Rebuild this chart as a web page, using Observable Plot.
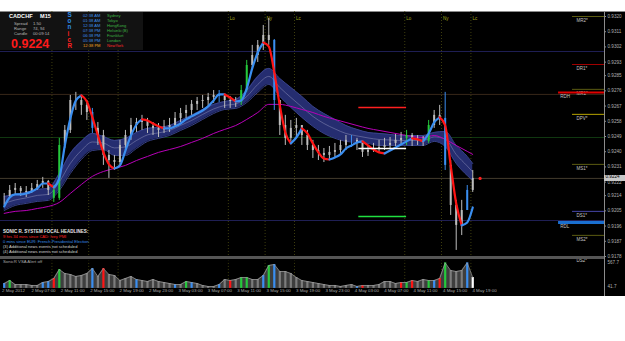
<!DOCTYPE html>
<html><head><meta charset="utf-8">
<script src="https://cdn.jsdelivr.net/npm/d3@7"></script>
<script src="https://cdn.jsdelivr.net/npm/@observablehq/plot@0.6"></script>
<style>
html,body{margin:0;padding:0;background:#fff;}
#root{position:relative;width:625px;height:341px;overflow:hidden;background:#fff;font-family:"Liberation Sans",Arial,sans-serif;}
#black{position:absolute;left:0;top:11px;width:625px;height:285px;background:#000;border-top:1px solid #8a8a8a;box-sizing:border-box;}
.abs{position:absolute;white-space:nowrap;line-height:1;}
.plot{position:absolute;left:0;}
</style></head>
<body><div id="root"><div id="black"></div></div>
<script>
// ---------------- DATA ----------------
const symbol = "CADCHF", timeframe = "M15";
// candles (one every 3 M15 bars)
const candleHigh = [0.92153,0.92200,0.92212,0.92194,0.92194,0.92212,0.92230,0.92248,0.92230,0.92200,
0.92479,0.92555,0.92733,0.92751,0.92733,0.92703,0.92656,0.92573,0.92526,0.92407,
0.92378,0.92467,0.92526,0.92597,0.92597,0.92615,0.92597,0.92573,0.92567,0.92585,
0.92597,0.92632,0.92656,0.92674,0.92703,0.92721,0.92733,0.92745,0.92762,0.92762,
0.92733,0.92727,0.92721,0.92792,0.92940,0.93029,0.93058,0.93147,0.93188,0.93064,
0.92703,0.92615,0.92585,0.92597,0.92555,0.92526,0.92467,0.92437,0.92419,0.92431,
0.92449,0.92467,0.92496,0.92496,0.92479,0.92449,0.92437,0.92449,0.92467,0.92479,
0.92484,0.92502,0.92514,0.92526,0.92508,0.92496,0.92490,0.92585,0.92644,0.92674,
0.92751,0.92348,0.92112,0.92112,0.92200,0.92289];
const candleLow = [0.92082,0.92129,0.92141,0.92135,0.92129,0.92153,0.92171,0.92183,0.92141,0.92100,
0.92112,0.92419,0.92508,0.92644,0.92615,0.92585,0.92508,0.92437,0.92319,0.92242,
0.92289,0.92319,0.92407,0.92467,0.92514,0.92526,0.92508,0.92496,0.92484,0.92508,
0.92514,0.92550,0.92573,0.92597,0.92615,0.92644,0.92656,0.92668,0.92686,0.92691,
0.92656,0.92656,0.92662,0.92674,0.92751,0.92881,0.92928,0.92999,0.93029,0.92644,
0.92496,0.92437,0.92455,0.92479,0.92437,0.92407,0.92360,0.92348,0.92336,0.92348,
0.92366,0.92390,0.92407,0.92425,0.92407,0.92366,0.92372,0.92396,0.92396,0.92407,
0.92413,0.92431,0.92437,0.92437,0.92431,0.92437,0.92431,0.92449,0.92538,0.92555,
0.92289,0.92023,0.91816,0.91904,0.92052,0.92159];
const candleClose = [0.92135,0.92171,0.92183,0.92165,0.92159,0.92183,0.92206,0.92224,0.92171,0.92124,
0.92437,0.92526,0.92703,0.92703,0.92674,0.92632,0.92538,0.92496,0.92378,0.92348,
0.92336,0.92437,0.92496,0.92555,0.92573,0.92585,0.92550,0.92538,0.92526,0.92544,
0.92555,0.92597,0.92626,0.92644,0.92680,0.92697,0.92703,0.92721,0.92733,0.92727,
0.92703,0.92697,0.92691,0.92762,0.92910,0.92969,0.93029,0.93088,0.93058,0.92703,
0.92555,0.92479,0.92538,0.92555,0.92496,0.92437,0.92407,0.92390,0.92378,0.92396,
0.92407,0.92437,0.92467,0.92467,0.92449,0.92396,0.92407,0.92419,0.92425,0.92437,
0.92449,0.92467,0.92479,0.92496,0.92467,0.92467,0.92461,0.92555,0.92615,0.92597,
0.92319,0.92082,0.91964,0.92052,0.92171,0.92242];
const greenCandles = [9,10,43,44,73,77];
const blueCandles = [16,39,49,63,80,84];
// fast smoothed MA (blue rising / red falling)
const fastMA = [0.92076,0.92129,0.92147,0.92147,0.92153,0.92165,0.92183,0.92212,0.92212,0.92189,
0.92242,0.92437,0.92597,0.92703,0.92733,0.92697,0.92603,0.92496,0.92396,0.92325,
0.92301,0.92319,0.92407,0.92496,0.92561,0.92591,0.92585,0.92567,0.92550,0.92538,
0.92538,0.92550,0.92567,0.92591,0.92609,0.92626,0.92644,0.92668,0.92703,0.92739,
0.92739,0.92721,0.92697,0.92703,0.92774,0.92893,0.92987,0.93046,0.93023,0.92869,
0.92674,0.92514,0.92449,0.92484,0.92538,0.92508,0.92449,0.92396,0.92360,0.92354,
0.92366,0.92384,0.92419,0.92437,0.92455,0.92461,0.92437,0.92413,0.92396,0.92390,
0.92407,0.92425,0.92443,0.92461,0.92479,0.92473,0.92461,0.92508,0.92573,0.92603,
0.92555,0.92319,0.92094,0.91964,0.91981,0.92070];
// channel band + slow MA, sampled every 2 candles (plus last)
const bandTop = [0.92135,0.92147,0.92159,0.92177,0.92183,0.92271,0.92390,0.92461,0.92508,0.92490,
0.92467,0.92479,0.92514,0.92538,0.92544,0.92555,0.92585,0.92615,0.92650,0.92680,
0.92697,0.92709,0.92762,0.92845,0.92893,0.92833,0.92780,0.92727,0.92668,0.92626,
0.92591,0.92555,0.92532,0.92514,0.92508,0.92502,0.92496,0.92496,0.92496,0.92514,
0.92520,0.92437,0.92372,0.92330];
const bandBottom = [0.92052,0.92082,0.92094,0.92106,0.92112,0.92171,0.92271,0.92354,0.92407,0.92413,
0.92378,0.92378,0.92419,0.92461,0.92479,0.92496,0.92526,0.92555,0.92591,0.92626,
0.92650,0.92656,0.92691,0.92751,0.92798,0.92727,0.92662,0.92603,0.92550,0.92508,
0.92479,0.92461,0.92455,0.92449,0.92437,0.92437,0.92437,0.92437,0.92437,0.92461,
0.92431,0.92330,0.92259,0.92230];
const slowMA = [0.92035,0.92047,0.92052,0.92064,0.92076,0.92100,0.92153,0.92206,0.92254,0.92283,
0.92301,0.92319,0.92348,0.92372,0.92396,0.92413,0.92431,0.92455,0.92479,0.92508,
0.92532,0.92555,0.92591,0.92632,0.92680,0.92680,0.92668,0.92650,0.92632,0.92609,
0.92591,0.92573,0.92555,0.92538,0.92526,0.92514,0.92502,0.92490,0.92484,0.92496,
0.92473,0.92437,0.92402,0.92384];
// VSA volume
const volume = [107,173,85,85,85,64,64,129,151,217,
414,327,305,261,283,327,436,261,436,305,
283,173,217,261,195,173,151,195,151,129,
107,85,85,151,129,107,64,42,42,85,
195,173,195,239,239,195,195,283,502,524,
370,370,327,239,173,151,129,107,85,64,
64,42,64,85,42,64,64,64,85,151,
151,107,129,129,173,151,195,173,173,217,
560,392,370,392,560,239];
const volGreen = [1,10,33,43,44,48,73,77,80];
const volBlue = [0,7,8,16,24,31,34,39,47,49,64,78,84];
const volRed = [9,18,41,65,72,74,79];
const volWhite = [85];
const volAxis = [567.7, 41.7];
// levels
const fullLevelNames = ["L1","L2","L3","bid","L5"];
const fullLevelValues = [0.92993,0.92739,0.92484,0.92242,0.91993];
const pivotNames = ["MR2*","DR1*","MR1*","DPV*","MS1*","DS1*","MS2*","DS2*"];
const pivotValues = [0.93200,0.92916,0.92769,0.92621,0.92325,0.92047,0.91905,0.91780];
const rangeNames = ["RDH","RDL"];
const rangeValues = [0.92751,0.91981];
const targetNames = ["high","mid","low"];
const targetValues = [0.92662,0.92419,0.92017];
const sessionBars = [28,48,64,124,144,160,220,240,256];
const sessionNames = ["Lo","Ny","Lc","Lo","Ny","Lc","Lo","Ny","Lc"];
const priceTicks = [0.9320,0.9311,0.9302,0.9293,0.9285,0.9276,0.9267,0.9258,0.9249,0.9240,0.9231,0.9222,0.9214,0.9205,0.9196,0.9187,0.9178];
const timeLabels = ["2 May 2012","2 May 07:00","2 May 11:00","2 May 15:00","2 May 19:00","2 May 23:00",
"3 May 03:00","3 May 07:00","3 May 11:00","3 May 15:00","3 May 19:00","3 May 23:00",
"4 May 03:00","4 May 07:00","4 May 11:00","4 May 15:00","4 May 19:00"];
const infoLabels = ["Spread","Range","Candle"];
const infoValues = ["1.50","74, 94","00:09:14"];
const sonicLetters = ["S","o","n","i","c","R"];
const clockTimes = ["02:38 AM","01:38 AM","12:38 AM","07:38 PM","06:38 PM","05:38 PM","12:38 PM"];
const clockCities = ["Sydney","Tokyo","HongKong","Helsinki (B)","Frankfurt","London","NewYork"];
const headlines = ["SONIC R. SYSTEM  FOCAL HEADLINES:","9 hrs 34 mins since CAD: Ivey PMI",
"0 mins since EUR: French Presidential Election","(3)  Additional news events not scheduled",
"(4)  Additional news events not scheduled"];

// ---------------- STYLES ----------------
const C = {green:"#25c93c", blue:"#3a8ef0", red:"#ff1414", candle:"#bdbdbd", grey:"#a8a8a8"};
const levelStyle = {L1:"#23235e", L2:"#3d2b1c", L3:"#123d12", bid:"#4a4232", L5:"#23235e"};
const pivotStyle = {"MR2*":"#5c5c12","DR1*":"#a00000","MR1*":"#5c5c12","DPV*":"#b8a400","MS1*":"#5c5c12","DS1*":"#4646a8","MS2*":"#5c5c12","DS2*":"#4646a8"};
const rangeStyle = {RDH:["#e00000",2],RDL:["#1a6fd0",3]};
const targetStyle = {high:"#ff2020",mid:"#ffffff",low:"#20e040"};

// ---------------- BUILD ----------------
const barOf = i => 3*i + 2;          // candle index -> M15 bar index
const XMAX = 328.7;                  // right edge of plot area in bars
const N = candleClose.length;
const lastBar = barOf(N-1);
const candles = candleClose.map((c,i)=>({
  bar: barOf(i), hi: candleHigh[i], lo: candleLow[i], close: c,
  open: i ? candleClose[i-1] : c,
  col: greenCandles.includes(i) ? C.green : blueCandles.includes(i) ? C.blue : C.candle
}));
const bandIdx = d3.range(0, N, 2).concat([N-1]);
const band = bandIdx.map((k,j)=>({bar: barOf(k), top: bandTop[j], bot: bandBottom[j], slow: slowMA[j]}));
const fastPts = fastMA.map((v,i)=>({bar: barOf(i), v}));
const runs = []; let runId = 0, prevDir = null;
for (let i = 0; i < fastPts.length-1; i++) {
  const dir = fastPts[i+1].v >= fastPts[i].v ? "up" : "down";
  if (dir !== prevDir) { runId++; runs.push({...fastPts[i], run: runId, dir}); prevDir = dir; }
  runs.push({...fastPts[i+1], run: runId, dir});
}
const vols = volume.map((v,i)=>({bar: barOf(i), v,
  col: volGreen.includes(i) ? C.green : volBlue.includes(i) ? C.blue : volRed.includes(i) ? C.red : volWhite.includes(i) ? "#ffffff" : "#7c7c7c"}));
const levels = fullLevelNames.map((n,i)=>({name:n, v: fullLevelValues[i]}));
const pivots = pivotNames.map((n,i)=>({name:n, v: pivotValues[i]}));
const ranges = rangeNames.map((n,i)=>({name:n, v: rangeValues[i]}));
const targets = targetNames.map((n,i)=>({name:n, v: targetValues[i]}));
const sessions = sessionBars.map((b,i)=>({bar:b, name: sessionNames[i]}));
const INFO_BOX_END = 78;            // bars hidden behind the info panel
const visibleSessions = sessions.filter(s => s.bar > INFO_BOX_END);
const timeTicks = timeLabels.map((t,i)=>({bar: 16*i, t}));
const lastClose = candleClose[N-1];

const font = {fontFamily: '"Liberation Sans", Arial, sans-serif'};
const main = Plot.plot({
  width: 625, height: 246, margin: 0,
  x: {domain: [0, XMAX], range: [0, 604], axis: null},
  y: {domain: [0.9178, 0.9320], range: [245, 5], axis: null},
  color: {type: "identity"},
  style: {background: "transparent", overflow: "visible", ...font},
  marks: [
    Plot.ruleY(levels, {y: "v", x1: 0, x2: XMAX, stroke: d => levelStyle[d.name], strokeWidth: 0.9}),
    Plot.ruleX(sessions, {x: "bar", stroke: "#4c4c12", strokeDasharray: "1,2", strokeWidth: 0.8}),
    Plot.text(visibleSessions, {x: "bar", text: "name", frameAnchor: "top", dy: 5.5, dx: 1.5, textAnchor: "start", fill: "#a8a81c", fontSize: 4.5}),
    Plot.areaY(band, {x: "bar", y1: "bot", y2: "top", fill: "#252d70", curve: "monotone-x"}),
    Plot.line(band, {x: "bar", y: "top", stroke: "#38428a", strokeWidth: 1, curve: "monotone-x"}),
    Plot.line(band, {x: "bar", y: "bot", stroke: "#38428a", strokeWidth: 1, curve: "monotone-x"}),
    Plot.line(band, {x: "bar", y: d => (d.top + d.bot) / 2, stroke: "#7d82ae", strokeWidth: 0.6, curve: "monotone-x"}),
    Plot.line(band, {x: "bar", y: "slow", stroke: "#b800b8", strokeWidth: 1, curve: "monotone-x"}),
    Plot.ruleX(candles, {x: "bar", y1: "lo", y2: "hi", stroke: "col", strokeWidth: 1}),
    Plot.ruleX(candles, {x: "bar", y1: "open", y2: "close", stroke: "col", strokeWidth: 2}),
    Plot.line(runs, {x: "bar", y: "v", z: "run", stroke: d => d.dir === "up" ? C.blue : C.red, strokeWidth: 2.2, curve: "monotone-x"}),
    Plot.ruleY(targets, {y: "v", x1: 195, x2: 221, stroke: d => targetStyle[d.name], strokeWidth: 1.6}),
    Plot.ruleY(pivots, {y: "v", x1: 311.3, x2: XMAX, stroke: d => pivotStyle[d.name], strokeWidth: 1}),
    Plot.text(pivots, {x: 313.5, y: "v", text: "name", dy: 4, textAnchor: "start", fill: "#c4c4c4", fontSize: 4.5}),
    Plot.ruleY(ranges, {y: "v", x1: 303.7, x2: XMAX, stroke: d => rangeStyle[d.name][0], strokeWidth: d => rangeStyle[d.name][1]}),
    Plot.text(ranges, {x: 304.6, y: "v", text: "name", dy: 4.5, textAnchor: "start", fill: "#c4c4c4", fontSize: 4.5}),
    Plot.dot([lastClose], {x: lastBar + 4, y: d => d, r: 1.6, fill: "#ff2020", stroke: null}),
    Plot.ruleX([XMAX], {stroke: "#8c8c8c", strokeWidth: 1}),
    Plot.ruleY(priceTicks, {x1: XMAX, x2: XMAX + 1.1, stroke: "#8c8c8c"}),
    Plot.text(priceTicks, {x: XMAX, y: d => d, text: d => d.toFixed(4), dx: 3, textAnchor: "start", fill: "#b0b0b0", fontSize: 4.6})
  ]
});
main.classList.add("plot");
main.style.top = "11px";

const vol = Plot.plot({
  width: 625, height: 39, margin: 0,
  x: {domain: [0, XMAX], range: [0, 604], axis: null},
  y: {domain: [0, 567.7], range: [30.9, 5], axis: null},
  color: {type: "identity"},
  style: {background: "transparent", overflow: "visible", ...font},
  marks: [
    Plot.ruleX(sessions, {x: "bar", y1: 0, y2: 600, stroke: "#4c4c12", strokeDasharray: "1,2", strokeWidth: 0.8}),
    Plot.areaY(vols, {x: "bar", y: "v", fill: "#3e3e3e"}),
    Plot.ruleX(vols, {x: "bar", y1: 0, y2: "v", stroke: "col", strokeWidth: 2.2}),
    Plot.line(vols, {x: "bar", y: "v", stroke: "#a0a0a0", strokeWidth: 0.7}),
    Plot.ruleX([XMAX], {stroke: "#8c8c8c", strokeWidth: 1}),
    Plot.text(volAxis, {x: XMAX, y: d => d, text: d => d.toFixed(1), dx: 3, textAnchor: "start", fill: "#b0b0b0", fontSize: 4.6}),
    Plot.text(timeTicks, {x: "bar", text: "t", frameAnchor: "bottom", dy: -5, dx: 1.5, textAnchor: "start", fill: "#a8a8a8", fontSize: 4.4})
  ]
});
vol.classList.add("plot");
vol.style.top = "257px";

const root = document.getElementById("root");
root.appendChild(main);
root.appendChild(vol);

function txt(x, yc, s, size, color, weight) {
  const d = document.createElement("div");
  d.className = "abs";
  d.textContent = s;
  d.style.left = x + "px";
  d.style.top = (yc - size * 0.55) + "px";
  d.style.fontSize = size + "px";
  d.style.color = color;
  if (weight) d.style.fontWeight = weight;
  root.appendChild(d);
  return d;
}
function box(x, y, w, h, bg) {
  const d = document.createElement("div");
  d.className = "abs";
  Object.assign(d.style, {left: x + "px", top: y + "px", width: w + "px", height: h + "px", background: bg});
  root.appendChild(d);
  return d;
}
// panel separator
box(0, 256, 604, 2.5, "#555555");
txt(3, 262, "SonicR VSA    Alert off", 4.3, "#a8a8a8");
// current price box on axis
const yNow = main.scale("y").apply(lastClose) + 11;
box(604, yNow - 3, 21, 6, "#c8c8c8");
txt(605.5, yNow, lastClose.toFixed(4), 4.6, "#000");
// info box
box(0, 12, 143, 38, "#121212");
txt(9, 16.8, symbol, 5.6, "#ffffff", "bold");
txt(40, 16.8, timeframe, 5.6, "#ffffff", "bold");
infoLabels.forEach((l, i) => { txt(14, 24 + 5.2 * i, l, 4.2, "#b8b8b8"); txt(33, 24 + 5.2 * i, infoValues[i], 4.2, "#b8b8b8"); });
txt(11, 44.6, lastClose.toFixed(4), 12.5, "#ff1a1a", "bold");
sonicLetters.forEach((s, i) => txt(67.5, 15.5 + 6.2 * i, s, 6.3, i < 3 ? "#2f8ce6" : "#ff2020", "bold"));
clockTimes.forEach((t, i) => txt(83, 16.2 + 5.05 * i, t, 4.1, i === 6 ? "#f0a020" : "#3d8ee8"));
clockCities.forEach((c, i) => txt(107, 16.2 + 5.05 * i, c, 4.1, i === 6 ? "#ff2a2a" : "#3cb043"));
// headlines
const hlColors = ["#e8e8e8", "#ff2020", "#3a8ee6", "#d4d4d4", "#d4d4d4"];
headlines.forEach((h, i) => txt(3, 232 + 5 * i, h, i === 0 ? 4.5 : 4.1, hlColors[i], i === 0 ? "bold" : null));
</script>
</body></html>
